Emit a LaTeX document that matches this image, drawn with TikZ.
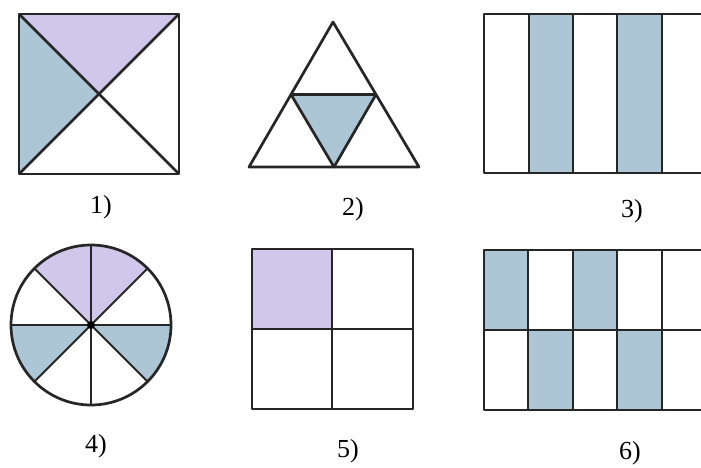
\documentclass[tikz,border=0pt]{standalone}
\usepackage{fontspec}
\setmainfont{Liberation Serif}
\usepackage{xcolor}
\definecolor{lavender}{RGB}{207,200,234}
\definecolor{paleblue}{RGB}{172,198,213}
\tikzset{
    edge/.style={draw=black!85, line width=2.7pt, line join=round},
    thin edge/.style={draw=black!85, line width=2pt},
    lav/.style={fill=lavender},
    blu/.style={fill=paleblue},
    caption/.style={font=\fontsize{26}{30}\selectfont, inner sep=0pt}
}

\begin{document}
\begin{tikzpicture}[x=1pt, y=1pt]
    \useasboundingbox (0,0) rectangle (701,467);
    \clip (0,0) rectangle (701,467);
    % 1) square with diagonals
    \begin{scope}
        \fill[lav] (19,453) -- (179,453) -- (99,373) -- cycle;
        \fill[blu] (19,453) -- (99,373) -- (19,293) -- cycle;
        \draw[edge] (19,293) rectangle (179,453);
        \draw[edge] (19,453) -- (179,293);
        \draw[edge] (19,293) -- (179,453);
        \node[caption] (c1) at (101,260) {1)};
    \end{scope}
    % 2) triangle
    \begin{scope}
        \fill[blu] (291,372.5) -- (376,372.5) -- (334,300) -- cycle;
        \draw[edge] (333,445) -- (419,300) -- (249,300) -- cycle;
        \draw[edge] (291,372.5) -- (376,372.5) -- (334,300) -- cycle;
        \node[caption] (c2) at (353,258) {2)};
    \end{scope}
    % 3) strips
    \begin{scope}
        \fill[blu] (529,294) rectangle (573,453);
        \fill[blu] (617,294) rectangle (662,453);
        \draw[edge] (712,294) -- (484,294) -- (484,453) -- (712,453);
        \foreach \x in {529,573,617,662}
            \draw[edge] (\x,294) -- (\x,453);
        \node[caption] (c3) at (632,256) {3)};
    \end{scope}
    % 4) circle in eight parts
    \begin{scope}[shift={(91,142)}]
        \fill[lav] (0,0) -- (45:80) arc (45:135:80) -- cycle;
        \fill[blu] (0,0) -- (180:80) arc (180:225:80) -- cycle;
        \fill[blu] (0,0) -- (315:80) arc (315:360:80) -- cycle;
        \foreach \a in {0,45,...,315}
            \draw[thin edge] (0,0) -- (\a:80);
        \draw[edge] (0,0) circle (80);
        \fill[black] (0,0) circle (4);
        \node[caption] (c4) at (5,-121) {4)};
    \end{scope}
    % 5) square in four parts
    \begin{scope}
        \fill[lav] (252,138) rectangle (332,218);
        \draw[edge] (252,58) rectangle (413,218);
        \draw[edge] (332,58) -- (332,218);
        \draw[edge] (252,138) -- (413,138);
        \node[caption] (c5) at (348,16) {5)};
    \end{scope}
    % 6) two rows of strips
    \begin{scope}
        \fill[blu] (484,137) rectangle (528,217);
        \fill[blu] (573,137) rectangle (617,217);
        \fill[blu] (528,57) rectangle (573,137);
        \fill[blu] (617,57) rectangle (662,137);
        \draw[edge] (712,57) -- (484,57) -- (484,217) -- (712,217);
        \draw[edge] (484,137) -- (712,137);
        \foreach \x in {528,573,617,662}
            \draw[edge] (\x,57) -- (\x,217);
        \node[caption] (c6) at (630,14) {6)};
    \end{scope}
\end{tikzpicture}
\end{document}
